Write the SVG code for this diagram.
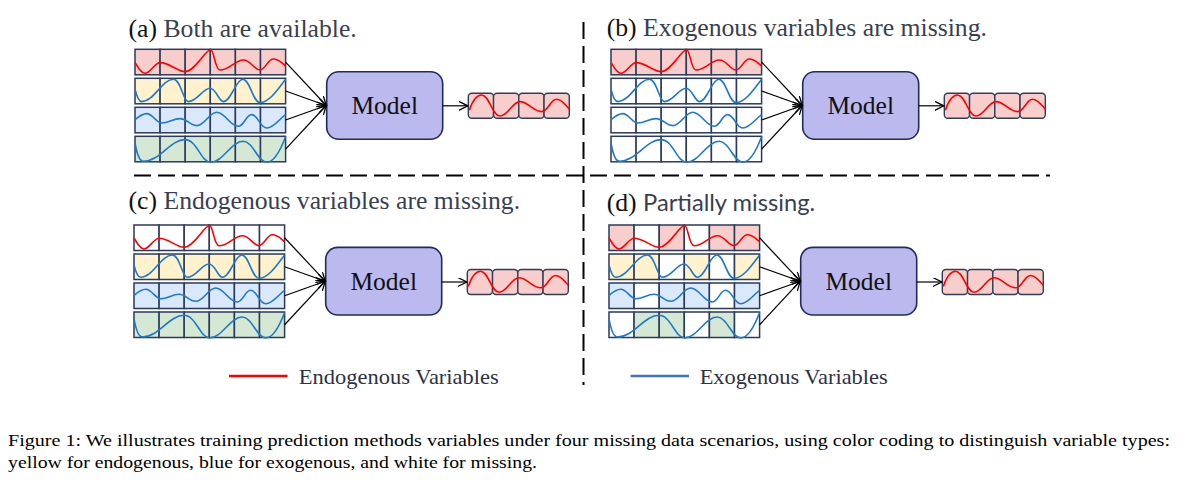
<svg xmlns="http://www.w3.org/2000/svg" xmlns:xlink="http://www.w3.org/1999/xlink" width="1179" height="483" viewBox="0 0 1179 483">
<style>
.cell{stroke:#2A3A5C;stroke-width:1.5}
.p{fill:#F8CECC}.y{fill:#FFF2CC}.b{fill:#DAE8FC}.g{fill:#D5E8D4}.w{fill:#FFFFFF}
.red{fill:none;stroke:#FF0000;stroke-width:1.6;stroke-linejoin:round}
.blue{fill:none;stroke:#1F78C8;stroke-width:1.6;stroke-linejoin:round}
.model{fill:#BCB9EF;stroke:#1E2D5C;stroke-width:1.6}
.out{fill:#F8CECC;stroke:#2F3D5A;stroke-width:1.4}
.mtxt{font-family:"Liberation Serif",serif;font-size:25.5px;fill:#111}
.title{font-family:"Liberation Serif",serif;font-size:25.7px;fill:#383F51}
.leg{font-family:"Liberation Serif",serif;font-size:22px;fill:#2D3245}
.cap{font-family:"Liberation Serif",serif;font-size:17.6px;fill:#000}
.conn{stroke:#000;stroke-width:1.2;fill:none;marker-end:url(#arr)}
.dash{stroke:#000;stroke-width:2;stroke-dasharray:17 7;fill:none}
</style>
<defs>
<marker id="arr" markerUnits="userSpaceOnUse" markerWidth="12" markerHeight="12" refX="9" refY="4.5" orient="auto">
<path d="M0,0 L9,4.5 L0,9" fill="none" stroke="#000" stroke-width="1.3"/>
</marker>
<path id="w1" class="red" d="M0,13 C3,18 6,24 10,24 C15,24 20,13.3 25,13.3 C35,13.3 42,22.3 50,22.3 C60,22.3 70,0.5 75.7,0.5 C79,0.5 80,20.7 85,20.7 C95,20.7 100,10.7 108.3,10.7 C116,10.7 119,20.7 125,20.7 C130,20.7 133,9.7 138.3,9.7 C144,9.7 147,14 150.6,16.7"/>
<path id="w2" class="blue" d="M0,11 C2,19 4,23.3 6.7,23.3 C19,23.3 27,1 38.3,1 C46,1 48,23.3 53.3,23.3 C62,23.3 68,10 75,10 C81,10 84,23.3 88.3,23.3 C96,23.3 101,1 107.7,1 C115,1 118,24.3 125,24.3 C135,24.3 145,8 150.6,1"/>
<path id="w3" class="blue" d="M0,12.3 C4,9 8,6.3 11.7,6.3 C18,6.3 21,15.7 26.7,15.7 C34,15.7 38,11.3 45,11.3 C52,11.3 55,18.3 61.7,18.3 C70,18.3 74,5 81.7,5 C90,5 95,19 103.3,19 C109,19 111,7.3 116.7,7.3 C123,7.3 125,20.7 131.7,20.7 C139,20.7 145,11 150.6,7.3"/>
<path id="w4" class="blue" d="M0,6.7 C2,18 5,25 8.3,25 C25,25 35,3.3 50,3.3 C62,3.3 66,26 75.7,26 C88,26 96,5 108.3,5 C118,5 123,26 131.7,26 C140,26 147,10 150.6,0.5"/>
<path id="wo" class="red" d="M1,17 C4,8 8,1.7 13.3,1.7 C21,1.7 24,22.7 31.7,22.7 C40,22.7 44,8.3 51.7,8.3 C60,8.3 65,18.3 73.3,18.3 C80,18.3 82,6 88.3,6 C94,6 97,12 101,15.7"/>
<g id="outbox">
<rect class="out" x="0" y="0" width="25.25" height="25" rx="3.5"/>
<rect class="out" x="25.25" y="0" width="25.25" height="25" rx="3.5"/>
<rect class="out" x="50.5" y="0" width="25.25" height="25" rx="3.5"/>
<rect class="out" x="75.75" y="0" width="25.25" height="25" rx="3.5"/>
<use href="#wo"/>
</g>
<g id="modelbox">
<rect class="model" x="191.7" y="22.4" width="116" height="67.6" rx="12"/>
<text class="mtxt" x="249.7" y="65" text-anchor="middle">Model</text>
</g>
</defs>

<!-- titles -->
<g id="titles">
<text class="title" x="128.5" y="37"><tspan fill="#111">(a)</tspan> Both are available.</text>
<text class="title" x="606.7" y="36"><tspan fill="#111">(b)</tspan> Exogenous variables are missing.</text>
<text class="title" x="128.5" y="208.5"><tspan fill="#111">(c)</tspan> Endogenous variables are missing.</text>
<text class="title" x="606.7" y="210.5"><tspan fill="#111">(d)</tspan> <tspan font-family="Lato, 'Open Sans', sans-serif" font-size="24px" textLength="172" lengthAdjust="spacingAndGlyphs">Partially missing.</tspan></text>
</g>

<!-- Panel (a) -->
<g id="panel-a" transform="translate(135,49.3)">
<g id="a-endo">
<rect class="cell p" x="0" y="0" width="25.1" height="25.5"/><rect class="cell p" x="25.1" y="0" width="25.1" height="25.5"/><rect class="cell p" x="50.2" y="0" width="25.1" height="25.5"/><rect class="cell p" x="75.3" y="0" width="25.1" height="25.5"/><rect class="cell p" x="100.4" y="0" width="25.1" height="25.5"/><rect class="cell p" x="125.5" y="0" width="25.1" height="25.5"/>
<use href="#w1"/>
</g>
<g id="a-exo1" transform="translate(0,29)">
<rect class="cell y" x="0" y="0" width="25.1" height="25.5"/><rect class="cell y" x="25.1" y="0" width="25.1" height="25.5"/><rect class="cell y" x="50.2" y="0" width="25.1" height="25.5"/><rect class="cell y" x="75.3" y="0" width="25.1" height="25.5"/><rect class="cell y" x="100.4" y="0" width="25.1" height="25.5"/><rect class="cell y" x="125.5" y="0" width="25.1" height="25.5"/>
<use href="#w2"/>
</g>
<g id="a-exo2" transform="translate(0,58)">
<rect class="cell b" x="0" y="0" width="25.1" height="25.5"/><rect class="cell b" x="25.1" y="0" width="25.1" height="25.5"/><rect class="cell b" x="50.2" y="0" width="25.1" height="25.5"/><rect class="cell b" x="75.3" y="0" width="25.1" height="25.5"/><rect class="cell b" x="100.4" y="0" width="25.1" height="25.5"/><rect class="cell b" x="125.5" y="0" width="25.1" height="25.5"/>
<use href="#w3"/>
</g>
<g id="a-exo3" transform="translate(0,87)">
<rect class="cell g" x="0" y="0" width="25.1" height="25.5"/><rect class="cell g" x="25.1" y="0" width="25.1" height="25.5"/><rect class="cell g" x="50.2" y="0" width="25.1" height="25.5"/><rect class="cell g" x="75.3" y="0" width="25.1" height="25.5"/><rect class="cell g" x="100.4" y="0" width="25.1" height="25.5"/><rect class="cell g" x="125.5" y="0" width="25.1" height="25.5"/>
<use href="#w4"/>
</g>
<g id="a-model"><use href="#modelbox"/></g>
<g id="a-output" transform="translate(333.3,44)"><use href="#outbox"/></g>
</g>

<!-- Panel (b) -->
<g id="panel-b" transform="translate(611,49.3)">
<g id="b-endo">
<rect class="cell p" x="0" y="0" width="25.1" height="25.5"/><rect class="cell p" x="25.1" y="0" width="25.1" height="25.5"/><rect class="cell p" x="50.2" y="0" width="25.1" height="25.5"/><rect class="cell p" x="75.3" y="0" width="25.1" height="25.5"/><rect class="cell p" x="100.4" y="0" width="25.1" height="25.5"/><rect class="cell p" x="125.5" y="0" width="25.1" height="25.5"/>
<use href="#w1"/>
</g>
<g id="b-exo1" transform="translate(0,29)">
<rect class="cell w" x="0" y="0" width="25.1" height="25.5"/><rect class="cell w" x="25.1" y="0" width="25.1" height="25.5"/><rect class="cell w" x="50.2" y="0" width="25.1" height="25.5"/><rect class="cell w" x="75.3" y="0" width="25.1" height="25.5"/><rect class="cell w" x="100.4" y="0" width="25.1" height="25.5"/><rect class="cell w" x="125.5" y="0" width="25.1" height="25.5"/>
<use href="#w2"/>
</g>
<g id="b-exo2" transform="translate(0,58)">
<rect class="cell w" x="0" y="0" width="25.1" height="25.5"/><rect class="cell w" x="25.1" y="0" width="25.1" height="25.5"/><rect class="cell w" x="50.2" y="0" width="25.1" height="25.5"/><rect class="cell w" x="75.3" y="0" width="25.1" height="25.5"/><rect class="cell w" x="100.4" y="0" width="25.1" height="25.5"/><rect class="cell w" x="125.5" y="0" width="25.1" height="25.5"/>
<use href="#w3"/>
</g>
<g id="b-exo3" transform="translate(0,87)">
<rect class="cell w" x="0" y="0" width="25.1" height="25.5"/><rect class="cell w" x="25.1" y="0" width="25.1" height="25.5"/><rect class="cell w" x="50.2" y="0" width="25.1" height="25.5"/><rect class="cell w" x="75.3" y="0" width="25.1" height="25.5"/><rect class="cell w" x="100.4" y="0" width="25.1" height="25.5"/><rect class="cell w" x="125.5" y="0" width="25.1" height="25.5"/>
<use href="#w4"/>
</g>
<g id="b-model"><use href="#modelbox"/></g>
<g id="b-output" transform="translate(333.3,44)"><use href="#outbox"/></g>
</g>

<!-- Panel (c) -->
<g id="panel-c" transform="translate(134,225)">
<g id="c-endo">
<rect class="cell w" x="0" y="0" width="25.1" height="25.5"/><rect class="cell w" x="25.1" y="0" width="25.1" height="25.5"/><rect class="cell w" x="50.2" y="0" width="25.1" height="25.5"/><rect class="cell w" x="75.3" y="0" width="25.1" height="25.5"/><rect class="cell w" x="100.4" y="0" width="25.1" height="25.5"/><rect class="cell w" x="125.5" y="0" width="25.1" height="25.5"/>
<use href="#w1"/>
</g>
<g id="c-exo1" transform="translate(0,29)">
<rect class="cell y" x="0" y="0" width="25.1" height="25.5"/><rect class="cell y" x="25.1" y="0" width="25.1" height="25.5"/><rect class="cell y" x="50.2" y="0" width="25.1" height="25.5"/><rect class="cell y" x="75.3" y="0" width="25.1" height="25.5"/><rect class="cell y" x="100.4" y="0" width="25.1" height="25.5"/><rect class="cell y" x="125.5" y="0" width="25.1" height="25.5"/>
<use href="#w2"/>
</g>
<g id="c-exo2" transform="translate(0,58)">
<rect class="cell b" x="0" y="0" width="25.1" height="25.5"/><rect class="cell b" x="25.1" y="0" width="25.1" height="25.5"/><rect class="cell b" x="50.2" y="0" width="25.1" height="25.5"/><rect class="cell b" x="75.3" y="0" width="25.1" height="25.5"/><rect class="cell b" x="100.4" y="0" width="25.1" height="25.5"/><rect class="cell b" x="125.5" y="0" width="25.1" height="25.5"/>
<use href="#w3"/>
</g>
<g id="c-exo3" transform="translate(0,87)">
<rect class="cell g" x="0" y="0" width="25.1" height="25.5"/><rect class="cell g" x="25.1" y="0" width="25.1" height="25.5"/><rect class="cell g" x="50.2" y="0" width="25.1" height="25.5"/><rect class="cell g" x="75.3" y="0" width="25.1" height="25.5"/><rect class="cell g" x="100.4" y="0" width="25.1" height="25.5"/><rect class="cell g" x="125.5" y="0" width="25.1" height="25.5"/>
<use href="#w4"/>
</g>
<g id="c-model"><use href="#modelbox"/></g>
<g id="c-output" transform="translate(333.3,44.5)"><use href="#outbox"/></g>
</g>

<!-- Panel (d) -->
<g id="panel-d" transform="translate(609,225)">
<g id="d-endo">
<rect class="cell p" x="0" y="0" width="25.1" height="25.5"/><rect class="cell w" x="25.1" y="0" width="25.1" height="25.5"/><rect class="cell p" x="50.2" y="0" width="25.1" height="25.5"/><rect class="cell w" x="75.3" y="0" width="25.1" height="25.5"/><rect class="cell p" x="100.4" y="0" width="25.1" height="25.5"/><rect class="cell p" x="125.5" y="0" width="25.1" height="25.5"/>
<use href="#w1"/>
</g>
<g id="d-exo1" transform="translate(0,29)">
<rect class="cell y" x="0" y="0" width="25.1" height="25.5"/><rect class="cell y" x="25.1" y="0" width="25.1" height="25.5"/><rect class="cell w" x="50.2" y="0" width="25.1" height="25.5"/><rect class="cell y" x="75.3" y="0" width="25.1" height="25.5"/><rect class="cell w" x="100.4" y="0" width="25.1" height="25.5"/><rect class="cell y" x="125.5" y="0" width="25.1" height="25.5"/>
<use href="#w2"/>
</g>
<g id="d-exo2" transform="translate(0,58)">
<rect class="cell b" x="0" y="0" width="25.1" height="25.5"/><rect class="cell w" x="25.1" y="0" width="25.1" height="25.5"/><rect class="cell b" x="50.2" y="0" width="25.1" height="25.5"/><rect class="cell b" x="75.3" y="0" width="25.1" height="25.5"/><rect class="cell w" x="100.4" y="0" width="25.1" height="25.5"/><rect class="cell b" x="125.5" y="0" width="25.1" height="25.5"/>
<use href="#w3"/>
</g>
<g id="d-exo3" transform="translate(0,87)">
<rect class="cell w" x="0" y="0" width="25.1" height="25.5"/><rect class="cell g" x="25.1" y="0" width="25.1" height="25.5"/><rect class="cell g" x="50.2" y="0" width="25.1" height="25.5"/><rect class="cell w" x="75.3" y="0" width="25.1" height="25.5"/><rect class="cell g" x="100.4" y="0" width="25.1" height="25.5"/><rect class="cell w" x="125.5" y="0" width="25.1" height="25.5"/>
<use href="#w4"/>
</g>
<g id="d-model"><use href="#modelbox"/></g>
<g id="d-output" transform="translate(333.3,44.5)"><use href="#outbox"/></g>
</g>

<!-- connectors -->
<g id="connectors">
<g transform="translate(135,49.3)">
<line class="conn" x1="150.6" y1="12.75" x2="191.2" y2="56.2"/>
<line class="conn" x1="150.6" y1="41.75" x2="191.2" y2="56.2"/>
<line class="conn" x1="150.6" y1="70.75" x2="191.2" y2="56.2"/>
<line class="conn" x1="150.6" y1="99.75" x2="191.2" y2="56.2"/>
<line class="conn" x1="307.7" y1="56.5" x2="332.8" y2="56.5"/>
</g>
<g transform="translate(611,49.3)">
<line class="conn" x1="150.6" y1="12.75" x2="191.2" y2="56.2"/>
<line class="conn" x1="150.6" y1="41.75" x2="191.2" y2="56.2"/>
<line class="conn" x1="150.6" y1="70.75" x2="191.2" y2="56.2"/>
<line class="conn" x1="150.6" y1="99.75" x2="191.2" y2="56.2"/>
<line class="conn" x1="307.7" y1="56.5" x2="332.8" y2="56.5"/>
</g>
<g transform="translate(134,225)">
<line class="conn" x1="150.6" y1="12.75" x2="191.2" y2="56.2"/>
<line class="conn" x1="150.6" y1="41.75" x2="191.2" y2="56.2"/>
<line class="conn" x1="150.6" y1="70.75" x2="191.2" y2="56.2"/>
<line class="conn" x1="150.6" y1="99.75" x2="191.2" y2="56.2"/>
<line class="conn" x1="307.7" y1="57" x2="332.8" y2="57"/>
</g>
<g transform="translate(609,225)">
<line class="conn" x1="150.6" y1="12.75" x2="191.2" y2="56.2"/>
<line class="conn" x1="150.6" y1="41.75" x2="191.2" y2="56.2"/>
<line class="conn" x1="150.6" y1="70.75" x2="191.2" y2="56.2"/>
<line class="conn" x1="150.6" y1="99.75" x2="191.2" y2="56.2"/>
<line class="conn" x1="307.7" y1="57" x2="332.8" y2="57"/>
</g>
</g>

<!-- separators -->
<g id="separators">
<line class="dash" x1="583.5" y1="22" x2="583.5" y2="385"/>
<line class="dash" x1="134" y1="175.5" x2="1050" y2="175.5"/>
</g>

<!-- legend -->
<g id="legend">
<line x1="229" y1="376" x2="287.5" y2="376" stroke="#FF0000" stroke-width="2.5"/>
<text class="leg" x="298.8" y="384" textLength="200" lengthAdjust="spacingAndGlyphs">Endogenous Variables</text>
<line x1="630.6" y1="376" x2="689" y2="376" stroke="#4472C4" stroke-width="2.5"/>
<text class="leg" x="699.7" y="384" textLength="188" lengthAdjust="spacingAndGlyphs">Exogenous Variables</text>
</g>

<!-- caption -->
<g id="caption">
<text class="cap" x="8" y="446" textLength="1162" lengthAdjust="spacingAndGlyphs">Figure 1: We illustrates training prediction methods variables under four missing data scenarios, using color coding to distinguish variable types:</text>
<text class="cap" x="8" y="468" textLength="529" lengthAdjust="spacingAndGlyphs">yellow for endogenous, blue for exogenous, and white for missing.</text>
</g>
</svg>
